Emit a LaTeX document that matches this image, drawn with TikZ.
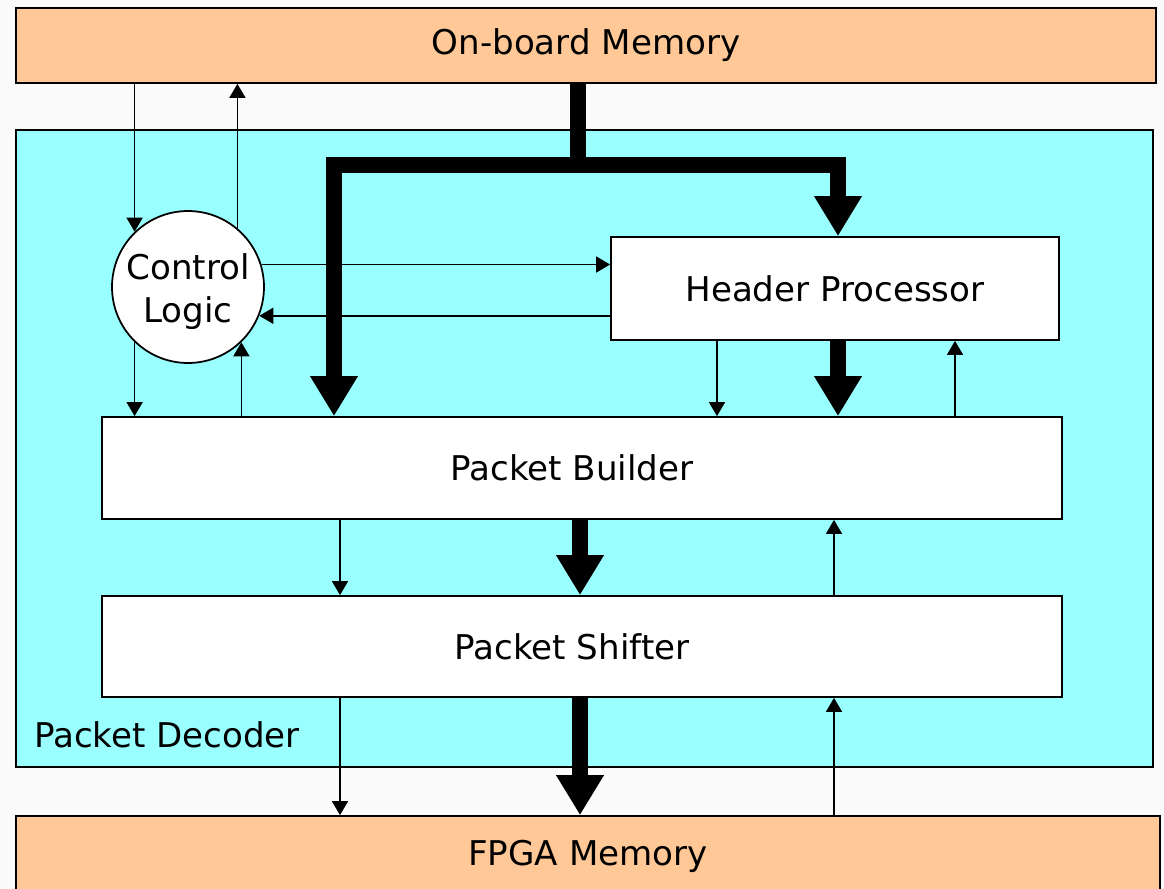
\documentclass[tikz,border=0pt]{standalone}
\usepackage{fontspec}
\setmainfont{DejaVu Sans}
\usetikzlibrary{arrows.meta}
\definecolor{mempeach}{HTML}{FFC896}
\definecolor{deccyan}{HTML}{99FFFF}

\begin{document}
\begin{tikzpicture}[x=0.02cm,y=-0.02cm,
  every node/.style={font=\fontsize{19.4}{24.5}\selectfont},
  mem/.style={draw,fill=mempeach,line width=1pt,inner sep=0pt},
  blk/.style={draw,fill=white,line width=1pt,inner sep=0pt},
  sig/.style={line width=0.9pt,-{Triangle[width=0.32cm,length=0.28cm]}},
  bus/.style={line width=0.32cm,-{Triangle[width=0.9cm,length=0.8cm]}}]
\fill[black!2] (0,0) rectangle (1164,889);
\useasboundingbox (0,0) rectangle (1164,889);
% memories and decoder
\node[mem,minimum width=22.8cm,minimum height=1.5cm] (onboard) at (586,45.5) {On-board Memory};
\node[draw,fill=deccyan,line width=1pt,minimum width=22.74cm,minimum height=12.74cm] (dec) at (584.5,448.5) {};
\node[anchor=west] (declabel) at (28,735) {Packet Decoder};
\node[mem,minimum width=22.88cm,minimum height=1.6cm] (fpga) at (588,856) {FPGA Memory};
% blocks
\node[blk,circle,minimum size=3.04cm,align=center] (ctrl) at (188,287) {Control\rule{0pt}{0.72cm}\\Logic};
\node[blk,minimum width=8.96cm,minimum height=2.06cm] (hp) at (835,288.5) {Header Processor};
\node[blk,minimum width=19.2cm,minimum height=2.04cm] (pb) at (582,468) {Packet Builder\hspace*{0.4cm}};
\node[blk,minimum width=19.2cm,minimum height=2.02cm] (ps) at (582,646.5) {Packet Shifter\hspace*{0.4cm}};
% data bus
\coordinate (split) at (578,165);
\draw[line width=0.32cm] (onboard.south -| split) -- (split);
\draw[bus] (split) -- (334,165) -- (pb.north -| 334,0);
\draw[bus] (split) -- (838,165) -- (hp.north -| 838,0);
\draw[bus] (hp.south -| 838,0) -- (pb.north -| 838,0);
\draw[bus] (pb.south -| 580,0) -- (ps.north -| 580,0);
\draw[bus] (ps.south -| 580,0) -- (fpga.north -| 580,0);
% control signals
\draw[sig] (ctrl.134 |- onboard.south) -- (ctrl.134);
\draw[sig] (ctrl.50) -- (ctrl.50 |- onboard.south);
\draw[sig] (ctrl.17) -- (ctrl.17 -| hp.west);
\draw[sig] (ctrl.-22 -| hp.west) -- (ctrl.-22);
\draw[sig] (ctrl.-134) -- (ctrl.-134 |- pb.north);
\draw[sig] (ctrl.-46 |- pb.north) -- (ctrl.-46);
\draw[sig] (hp.south -| 717,0) -- (pb.north -| 717,0);
\draw[sig] (pb.north -| 955,0) -- (hp.south -| 955,0);
\draw[sig] (pb.south -| 340,0) -- (ps.north -| 340,0);
\draw[sig] (ps.north -| 834,0) -- (pb.south -| 834,0);
\draw[sig] (ps.south -| 340,0) -- (fpga.north -| 340,0);
\draw[sig] (fpga.north -| 834,0) -- (ps.south -| 834,0);
\end{tikzpicture}
\end{document}
